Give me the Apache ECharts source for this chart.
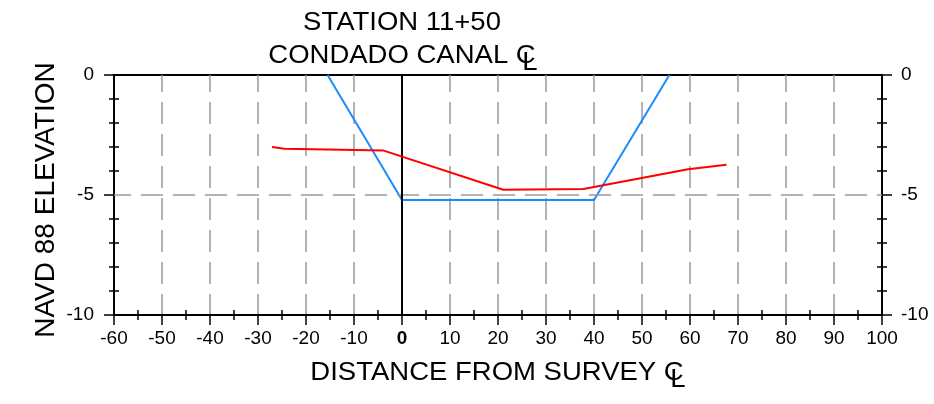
<!DOCTYPE html>
<html><head><meta charset="utf-8">
<script src="https://cdn.jsdelivr.net/npm/echarts@6/dist/echarts.min.js"></script>
<style>html,body{margin:0;padding:0;background:#fff}#c{width:934px;height:404px}</style>
</head><body><div id="c"></div>
<script>
const titleLine1 = 'STATION 11+50';
const titleLine2 = 'CONDADO CANAL';
const xAxisName = 'DISTANCE FROM SURVEY';
const clMark = ['C', 'L']; // centerline symbol drawn as overlapping C and L
const yAxisName = 'NAVD 88 ELEVATION';
const xTicks = [-60, -50, -40, -30, -20, -10, 0, 10, 20, 30, 40, 50, 60, 70, 80, 90, 100];
const yTicks = [0, -5, -10];
const yGridLines = [-5];
// existing ground (red)
const groundX = [-27.1, -24.5, -3.8, 21.1, 37.8, 59.6, 67.6];
const groundY = [-3.0, -3.07, -3.15, -4.78, -4.75, -3.93, -3.74];
// canal section (blue)
const canalX = [-15.5, 0, 40, 55.7];
const canalY = [0, -5.21, -5.21, 0];

const FONT = '"Liberation Sans", Arial, sans-serif';
const ground = groundX.map((x, i) => [x, groundY[i]]);
const canal = canalX.map((x, i) => [x, canalY[i]]);
const xMin = xTicks[0], xMax = xTicks[xTicks.length - 1];
const yMin = yTicks[yTicks.length - 1], yMax = yTicks[0];
const gridDash = { color: '#9a9a9a', width: 1.5, type: [22, 10], dashOffset: 5 };

const ctx = document.createElement('canvas').getContext('2d');
function measure(text, size) { ctx.font = size + 'px ' + FONT; return ctx.measureText(text).width; }

function clLine(text, cx, cy, size, sx) {
  const full = text + ' ' + clMark[0];
  const W = measure(full, size);
  const wC = measure(clMark[0], size);
  const x0 = cx - W * sx / 2;
  const cLeft = x0 + (W - wC) * sx;
  const font = size + 'px ' + FONT;
  return [
    { type: 'text', x: x0, y: cy, scaleX: sx, style: { text: full, font: font, fill: '#000', textAlign: 'left', textVerticalAlign: 'middle' } },
    { type: 'text', x: cLeft + 0.26 * size, y: cy + 0.27 * size, scaleX: sx, style: { text: clMark[1], font: font, fill: '#000', textAlign: 'left', textVerticalAlign: 'middle' } }
  ];
}
function plainLine(text, cx, cy, size, sx) {
  const W = measure(text, size);
  return { type: 'text', x: cx - W * sx / 2, y: cy, scaleX: sx, style: { text: text, font: size + 'px ' + FONT, fill: '#000', textAlign: 'left', textVerticalAlign: 'middle' } };
}

const chart = echarts.init(document.getElementById('c'));
const baseX = { type: 'value', min: xMin, max: xMax, interval: 10, position: 'bottom' };
const baseY = { type: 'value', min: yMin, max: yMax, interval: 5 };
const tickStyle = { color: '#000', width: 1.5 };
chart.setOption({
  animation: false,
  graphic: [].concat(
    [plainLine(titleLine1, 402, 23, 25, 1.1)],
    clLine(titleLine2, 402, 56, 25, 1.1),
    clLine(xAxisName, 497, 373, 25, 1.1),
    [{ type: 'text', x: 46, y: 200, rotation: Math.PI / 2,
       style: { text: yAxisName, font: '28px ' + FONT, fill: '#000', textAlign: 'center', textVerticalAlign: 'middle' } }]
  ),
  grid: { left: 114, right: 52, top: 75, bottom: 89, show: true, borderColor: '#000', borderWidth: 2 },
  xAxis: [
    Object.assign({}, baseX, {
      axisLine: { show: true, onZero: false, lineStyle: { color: '#000', width: 2 } },
      axisTick: { show: true, length: 10, lineStyle: tickStyle },
      minorTick: { show: true, splitNumber: 2, length: 5, lineStyle: tickStyle },
      axisLabel: {
        fontFamily: FONT, fontSize: 19, color: '#000', margin: 14,
        formatter: v => v === 0 ? '{b|0}' : String(v),
        rich: { b: { fontFamily: FONT, fontSize: 19, fontWeight: 'bold', color: '#000' } }
      },
      splitLine: { show: true, lineStyle: gridDash }
    }),
    Object.assign({}, baseX, {
      axisLine: { show: false, onZero: false },
      axisTick: { show: false, inside: true },
      minorTick: { show: true, splitNumber: 2, length: 5, lineStyle: tickStyle },
      axisLabel: { show: false }, splitLine: { show: false }
    })
  ],
  yAxis: [
    Object.assign({}, baseY, {
      position: 'left',
      axisLine: { show: true, onZero: false, lineStyle: { color: '#000', width: 2 } },
      axisTick: { show: true, length: 10, lineStyle: tickStyle },
      minorTick: { show: true, splitNumber: 5, length: 5, lineStyle: tickStyle },
      axisLabel: { fontFamily: FONT, fontSize: 19, color: '#000', margin: 20 },
      splitLine: { show: false }
    }),
    Object.assign({}, baseY, {
      position: 'left',
      axisLine: { show: false, onZero: false },
      axisTick: { show: false, inside: true },
      minorTick: { show: true, splitNumber: 5, length: 5, lineStyle: tickStyle },
      axisLabel: { show: false }, splitLine: { show: false }
    }),
    Object.assign({}, baseY, {
      position: 'right',
      axisLine: { show: true, onZero: false, lineStyle: { color: '#000', width: 2 } },
      axisTick: { show: true, length: 10, lineStyle: tickStyle },
      minorTick: { show: true, splitNumber: 5, length: 5, lineStyle: tickStyle },
      axisLabel: { fontFamily: FONT, fontSize: 19, color: '#000', margin: 19 },
      splitLine: { show: false }
    }),
    Object.assign({}, baseY, {
      position: 'right',
      axisLine: { show: false, onZero: false },
      axisTick: { show: false, inside: true },
      minorTick: { show: true, splitNumber: 5, length: 5, lineStyle: tickStyle },
      axisLabel: { show: false }, splitLine: { show: false }
    })
  ],
  series: [
    {
      type: 'line', data: [], symbol: 'none', z: 1,
      markLine: {
        silent: true, symbol: ['none', 'none'], label: { show: false },
        lineStyle: gridDash,
        data: yGridLines.map(v => ({ yAxis: v }))
      }
    },
    {
      type: 'line', data: canal, symbol: 'none', z: 4,
      lineStyle: { color: '#1a8cff', width: 2 },
      markLine: {
        silent: true, symbol: ['none', 'none'], label: { show: false },
        lineStyle: { color: '#000', width: 2, type: 'solid' },
        data: [{ xAxis: 0 }]
      }
    },
    {
      type: 'line', data: ground, symbol: 'none', z: 5,
      lineStyle: { color: '#ff0000', width: 2 }
    }
  ]
});
</script></body></html>
